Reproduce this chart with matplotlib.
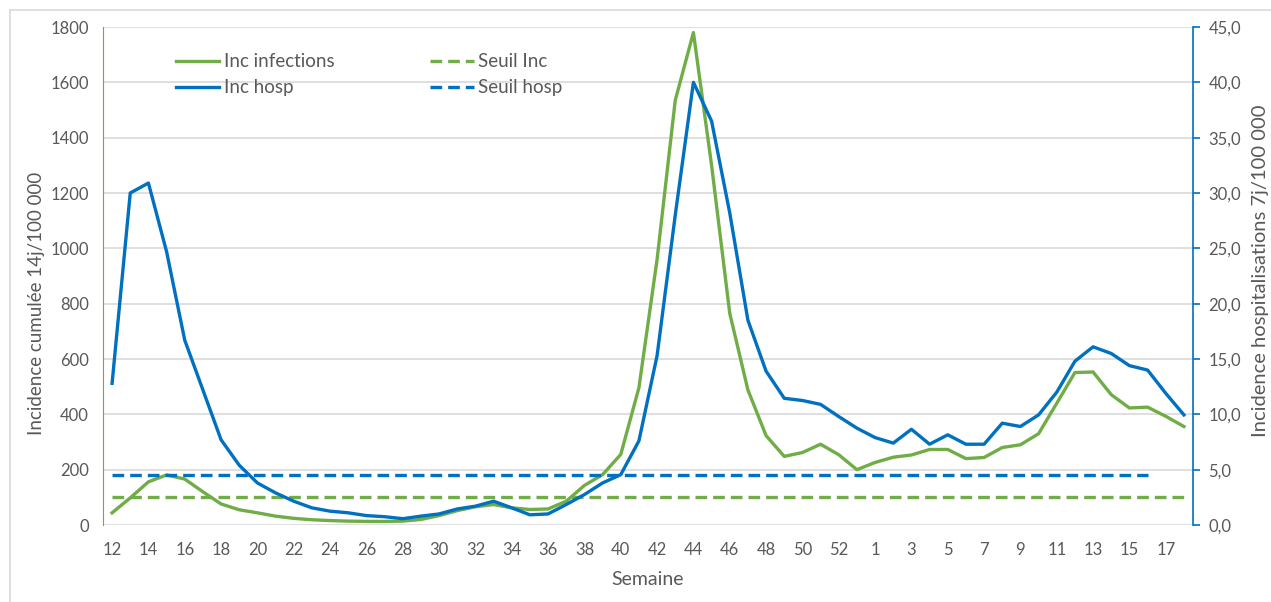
import numpy as np
import matplotlib.pyplot as plt
from matplotlib.lines import Line2D
from matplotlib.ticker import FuncFormatter, MultipleLocator

plt.rcParams['font.family'] = ['Lato', 'DejaVu Sans']

# Weeks: 12..53 of 2020, then 1..18 of 2021
semaines = [str(w) for w in range(12, 54)] + [str(w) for w in range(1, 19)]

# Incidence cumulee 14j / 100 000 (left axis)
inc_infections = [44, 98, 156, 181, 166, 120, 76, 55, 44, 32,
                  24, 19, 16, 14, 13, 13, 14, 20, 34, 52,
                  66, 74, 62, 56, 58, 86, 143, 182, 255, 496,
                  960, 1535, 1780, 1300, 765, 488, 323, 248, 262, 292,
                  254, 200, 226, 245, 253, 273, 273, 240, 244, 280,
                  290, 330, 440, 551, 553, 471, 423, 426, 393, 356]

# Incidence hospitalisations 7j / 100 000 (right axis)
inc_hosp = [12.8, 30.0, 30.9, 24.7, 16.7, 12.2, 7.7, 5.4, 3.8, 2.9,
            2.15, 1.55, 1.25, 1.1, 0.85, 0.75, 0.57, 0.8, 1.0, 1.45,
            1.7, 2.15, 1.55, 0.92, 1.0, 1.85, 2.75, 3.8, 4.55, 7.6,
            15.3, 28.0, 40.0, 36.5, 28.2, 18.5, 13.9, 11.45, 11.25, 10.9,
            9.8, 8.75, 7.9, 7.4, 8.65, 7.3, 8.15, 7.3, 7.3, 9.2,
            8.9, 9.95, 12.0, 14.8, 16.1, 15.5, 14.4, 14.0, 11.9, 9.95]

# thresholds
seuil_inc = 100
seuil_hosp = 4.5
seuil_hosp_fin = 57  # hosp threshold stops at week 16 of 2021

green = '#70AD47'
blue = '#0070C0'
grey = '#595959'

x = np.arange(len(semaines))

fig = plt.figure(figsize=(12.71, 6.02), dpi=100)
ax = fig.add_axes([103/1271, 1-525/602, (1193-103)/1271, (525-27)/602])
ax2 = ax.twinx()

l1, = ax.plot(x, inc_infections, color=green, lw=2.4, label='Inc infections')
l3, = ax.plot(x, [seuil_inc]*len(x), color=green, lw=2.4, ls=(0, (3.5, 1.8)), label='Seuil Inc')
l2, = ax2.plot(x, inc_hosp, color=blue, lw=2.4, label='Inc hosp')
l4, = ax2.plot(x[:seuil_hosp_fin+1], [seuil_hosp]*(seuil_hosp_fin+1), color=blue, lw=2.4,
               ls=(0, (3.5, 1.8)), label='Seuil hosp')

ax.set_xlim(-0.5, len(x)-0.5)
ax.set_ylim(0, 1800)
ax2.set_ylim(0, 45)
ax.yaxis.set_major_locator(MultipleLocator(200))
ax2.yaxis.set_major_locator(MultipleLocator(5))
ax2.yaxis.set_major_formatter(FuncFormatter(lambda v, p: f'{v:.1f}'.replace('.', ',')))

ax.set_xticks(x[::2])
ax.set_xticklabels(semaines[::2])

ax.grid(axis='y', color='#D9D9D9', lw=1.2)
ax.set_axisbelow(True)

for a in (ax, ax2):
    a.spines['top'].set_visible(False)
    a.spines['bottom'].set_visible(False)
ax.spines['right'].set_visible(False)
ax2.spines['left'].set_visible(False)
ax.spines['left'].set_color(green)
ax2.spines['right'].set_color(blue)
ax2.spines['right'].set_linewidth(1.2)

ax.tick_params(axis='y', length=0, labelsize=12, labelcolor=grey, pad=10)
ax.tick_params(axis='x', length=0, labelsize=12, labelcolor=grey, pad=12)
ax2.tick_params(axis='y', length=5, width=1.2, color=blue, labelsize=12, labelcolor=grey, pad=6)

ax.set_xlabel('Semaine', fontsize=14, color=grey)
ax.xaxis.set_label_coords(0.5, -0.093)
ax.set_ylabel('Incidence cumulée 14j/100 000', fontsize=13.5, color=grey)
ax.yaxis.set_label_coords(-0.053, 0.445)
ax2.set_ylabel('Incidence hospitalisations 7j/100 000', fontsize=14.5, color=grey, rotation=90)
ax2.yaxis.set_label_coords(1.054, 0.51)

fig.legend(handles=[l1, l2, l3, l4], ncol=2, frameon=False, fontsize=13.5,
           loc='upper left', bbox_to_anchor=(167/1271, 1-44/602),
           handlelength=2.3, handletextpad=0.25, columnspacing=5.1,
           labelspacing=0.48, labelcolor=grey, borderpad=0)

# chart border (top and left edges visible)
fig.add_artist(Line2D([10/1271, 1], [1-10/602, 1-10/602], color='#D9D9D9', lw=1.2))
fig.add_artist(Line2D([10/1271, 10/1271], [0, 1-10/602], color='#D9D9D9', lw=1.2))

fig.savefig('out.png', dpi=100)
